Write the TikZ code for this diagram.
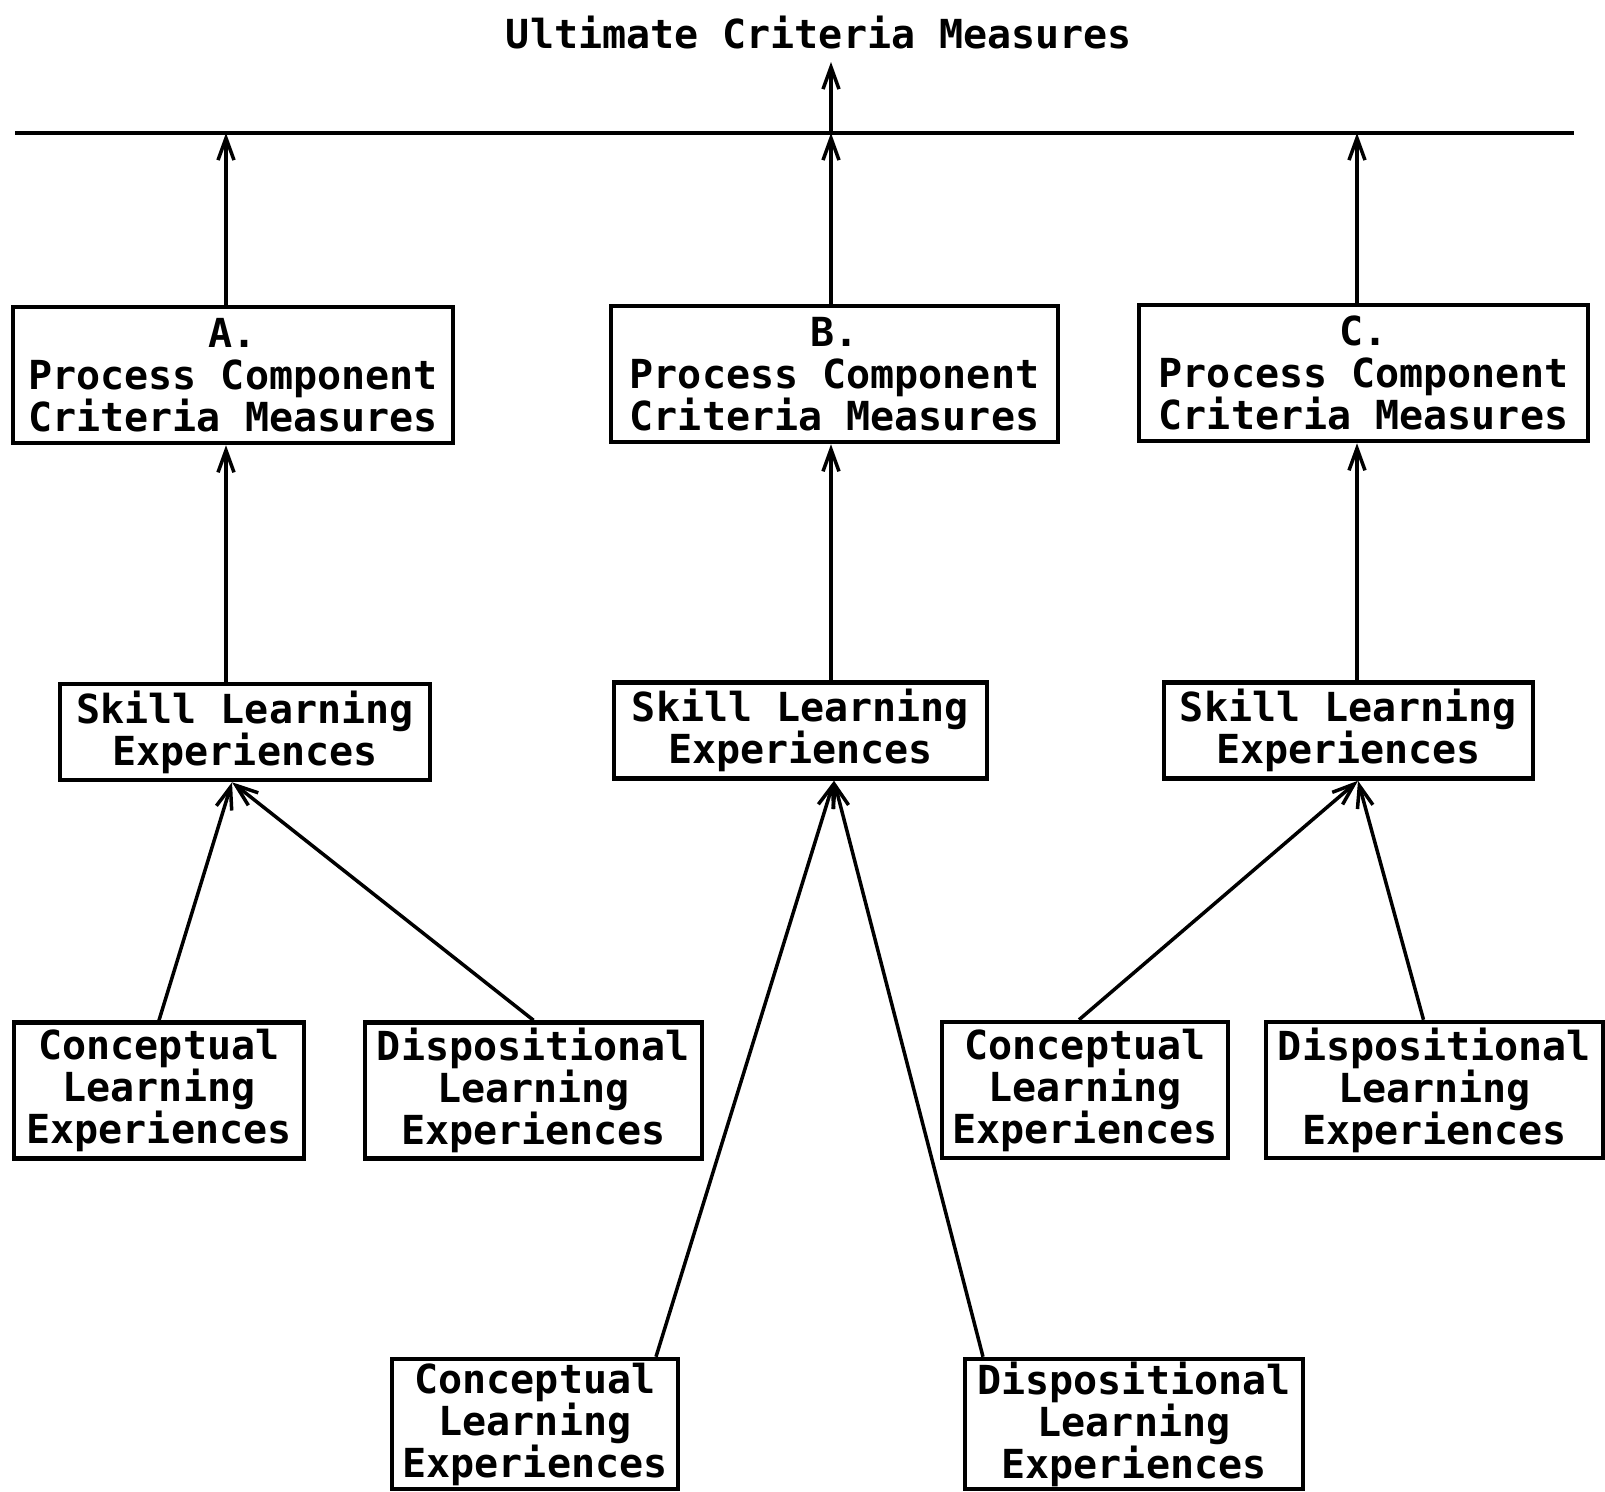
\documentclass[tikz,border=0pt]{standalone}
\usepackage{fontspec}
\setmonofont{DejaVu Sans Mono}
\usetikzlibrary{arrows.meta}
\begin{document}
\begin{tikzpicture}[x=1pt,y=-1pt,
  every node/.style={font=\ttfamily\bfseries\fontsize{40}{42}\selectfont},
  box/.style={draw, line width=4.5pt, inner sep=0pt, align=center},
  proc/.style={box, minimum height=136pt},
  skill/.style={box, minimum height=96pt},
  leaf/.style={box, minimum height=136pt},
  arr/.style={line width=3.5pt, -{Straight Barb[length=22pt,width=16pt,line width=3.5pt]}},
  plain/.style={line width=3.5pt}]
\useasboundingbox (0,0) rectangle (1605,1491);
% title and bar
\node (title) at (819,33) {Ultimate Criteria Measures};
\coordinate (L1) at (15,133);
\coordinate (L2) at (1574,133);
\draw[plain] (L1) -- (L2);
\coordinate (tA) at (226,133);
\coordinate (tB) at (831,133);
\coordinate (tC) at (1357,133);
\coordinate (ult) at (831,62);
\draw[arr] (tB) -- (ult);
% process boxes
\node[proc, minimum width=440pt] (pA) at (233,375) {A.\\Process Component\\Criteria Measures};
\node[proc, minimum width=447pt] (pB) at (834.5,374) {B.\\Process Component\\Criteria Measures};
\node[proc, minimum width=449pt] (pC) at (1363.5,373) {C.\\Process Component\\Criteria Measures};
\draw[arr] (pA.north -| tA) -- (tA);
\draw[arr] (pB.north -| tB) -- (tB);
\draw[arr] (pC.north -| tC) -- (tC);
% skill boxes
\node[skill, minimum width=370pt] (sA) at (245,732) {Skill Learning\\Experiences};
\node[skill, minimum width=373pt] (sB) at (800.5,730.5) {Skill Learning\\Experiences};
\node[skill, minimum width=369pt] (sC) at (1348.5,730.5) {Skill Learning\\Experiences};
\draw[arr] (sA.north -| tA) -- (pA.south -| tA);
\draw[arr] (sB.north -| tB) -- (pB.south -| tB);
\draw[arr] (sC.north -| tC) -- (pC.south -| tC);
% leaf boxes
\node[leaf, minimum width=290pt] (cA) at (159,1090.5) {Conceptual\\Learning\\Experiences};
\node[leaf, minimum width=337pt] (dA) at (533.5,1090.5) {Dispositional\\Learning\\Experiences};
\node[leaf, minimum width=286pt] (cC) at (1085,1090) {Conceptual\\Learning\\Experiences};
\node[leaf, minimum width=337pt] (dC) at (1434.5,1090) {Dispositional\\Learning\\Experiences};
\node[leaf, minimum width=286pt, minimum height=130pt] (cB) at (535,1424) {Conceptual\\Learning\\Experiences};
\node[leaf, minimum width=338pt, minimum height=130pt] (dB) at (1134,1424) {Dispositional\\Learning\\Experiences};
% converging arrows
\draw[arr] (cA.north) -- ([xshift=-13pt]sA.south);
\draw[arr] (dA.north) -- ([xshift=-13pt]sA.south);
\draw[arr] ([xshift=121pt]cB.north) -- ([xshift=33.5pt]sB.south);
\draw[arr] ([xshift=-151pt]dB.north) -- ([xshift=33.5pt]sB.south);
\draw[arr] ([xshift=-6pt]cC.north) -- ([xshift=9.5pt]sC.south);
\draw[arr] ([xshift=-11pt]dC.north) -- ([xshift=9.5pt]sC.south);
\end{tikzpicture}
\end{document}
